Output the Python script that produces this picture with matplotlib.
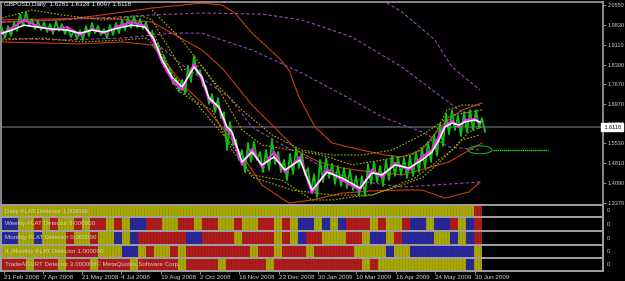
import matplotlib

matplotlib.use("Agg")
import matplotlib.pyplot as plt
from matplotlib.colors import ListedColormap
from matplotlib.patches import Ellipse
import numpy as np

plt.rcParams["font.family"] = ["Liberation Sans", "DejaVu Sans"]

# --- price data (x = bar position on screen) ---
bar_x = np.arange(0, 481, 6)
price_hi = [1.972, 1.979, 1.993, 2.022, 2.030, 2.004, 1.997, 1.993, 1.986, 1.997,
            1.986, 1.975, 1.964, 1.964, 1.979, 1.990, 1.979, 1.968, 1.982, 1.990,
            2.001, 2.011, 2.015, 2.004, 1.993, 1.957, 1.914, 1.870, 1.827, 1.790,
            1.783, 1.834, 1.870, 1.819, 1.761, 1.732, 1.718, 1.667, 1.631, 1.566,
            1.529, 1.555, 1.558, 1.522, 1.529, 1.566, 1.522, 1.493, 1.515, 1.537,
            1.518, 1.464, 1.442, 1.493, 1.500, 1.479, 1.471, 1.464, 1.457, 1.435,
            1.435, 1.479, 1.486, 1.471, 1.493, 1.508, 1.504, 1.500, 1.508, 1.522,
            1.537, 1.558, 1.584, 1.624, 1.663, 1.674, 1.653, 1.667, 1.674, 1.674,
            1.645]
price_lo = [1.935, 1.943, 1.961, 1.979, 1.982, 1.968, 1.964, 1.957, 1.950, 1.961,
            1.950, 1.939, 1.932, 1.928, 1.943, 1.953, 1.946, 1.935, 1.946, 1.953,
            1.964, 1.972, 1.975, 1.968, 1.953, 1.903, 1.856, 1.812, 1.769, 1.740,
            1.732, 1.776, 1.805, 1.761, 1.696, 1.667, 1.645, 1.529, 1.547, 1.493,
            1.449, 1.486, 1.493, 1.449, 1.457, 1.479, 1.449, 1.420, 1.442, 1.464,
            1.439, 1.377, 1.359, 1.413, 1.428, 1.406, 1.399, 1.391, 1.384, 1.366,
            1.362, 1.406, 1.413, 1.399, 1.420, 1.435, 1.439, 1.428, 1.435, 1.449,
            1.464, 1.486, 1.508, 1.544, 1.587, 1.602, 1.580, 1.595, 1.602, 1.609,
            1.595]

ma_x = [0, 10, 22, 35, 50, 65, 78, 90, 102, 117, 130, 143, 152, 160, 170, 180,
        192, 200, 207, 217, 225, 230, 240, 250, 260, 272, 283, 298, 310, 325,
        340, 358, 370, 380, 393, 407, 420, 430, 437, 443, 450, 457, 463, 473, 478]
ma_slow = [1.953, 1.964, 1.982, 1.975, 1.968, 1.964, 1.953, 1.964, 1.957, 1.972,
           1.982, 1.975, 1.932, 1.856, 1.794, 1.758, 1.830, 1.794, 1.718, 1.685,
           1.613, 1.595, 1.486, 1.522, 1.475, 1.504, 1.457, 1.493, 1.384, 1.449,
           1.428, 1.391, 1.446, 1.439, 1.475, 1.464, 1.493, 1.522, 1.566, 1.613,
           1.627, 1.620, 1.631, 1.638, 1.631]
ma_fast = [1.950, 1.972, 2.001, 1.979, 1.964, 1.975, 1.946, 1.968, 1.953, 1.979,
           1.993, 1.979, 1.921, 1.848, 1.783, 1.747, 1.841, 1.783, 1.711, 1.682,
           1.602, 1.584, 1.475, 1.533, 1.468, 1.522, 1.449, 1.504, 1.373, 1.457,
           1.420, 1.384, 1.457, 1.431, 1.482, 1.457, 1.504, 1.529, 1.580, 1.620,
           1.634, 1.613, 1.638, 1.642, 1.624]

# envelope / band lines: (x, price, kind)
bands = [
    ([0, 60, 100, 150, 200, 220, 233, 250, 277, 287, 297, 313, 330, 350, 383, 400, 420, 440, 460, 480],
     [1.993, 2.001, 2.019, 2.044, 2.062, 2.055, 2.026, 1.953, 1.863, 1.819, 1.721, 1.613, 1.555, 1.537,
      1.511, 1.504, 1.529, 1.620, 1.674, 1.700], "red"),
    ([0, 100, 150, 200, 220, 250, 273, 297, 317, 340, 370, 400, 447, 480],
     [2.001, 2.008, 1.993, 1.892, 1.827, 1.692, 1.609, 1.522, 1.486, 1.464, 1.449, 1.439, 1.486, 1.555], "red"),
    ([0, 80, 120, 150, 183, 200, 230, 260, 287, 310, 340, 370, 400, 420, 443, 467, 478],
     [1.921, 1.914, 1.921, 1.910, 1.758, 1.700, 1.566, 1.402, 1.337, 1.348, 1.373, 1.381, 1.384, 1.384,
      1.355, 1.377, 1.413], "red"),
    ([380, 400, 433, 450, 478], [2.073, 2.030, 1.928, 1.830, 1.747], "purple"),
    ([0, 100, 150, 200, 260, 300, 350, 400, 457, 478],
     [1.993, 2.008, 2.019, 2.026, 2.022, 2.001, 1.939, 1.830, 1.674, 1.645], "purple"),
    ([0, 60, 120, 170, 200, 250, 300, 350, 380, 420, 447, 478],
     [1.935, 1.928, 1.935, 1.953, 1.953, 1.892, 1.808, 1.711, 1.649, 1.595, 1.540, 1.529], "purple"),
    ([150, 183, 227, 250, 277, 317, 350, 400, 478],
     [1.928, 1.830, 1.721, 1.613, 1.555, 1.475, 1.420, 1.395, 1.413], "purple"),
    ([0, 30, 60, 100, 140, 150, 165, 180, 200, 220, 240, 260, 290, 320, 350, 380, 410, 430, 445, 460, 478],
     [2.008, 2.037, 2.019, 2.001, 2.015, 2.001, 1.910, 1.819, 1.837, 1.729, 1.602, 1.547, 1.529, 1.511,
      1.475, 1.493, 1.511, 1.566, 1.674, 1.692, 1.692], "yellow"),
    ([0, 40, 80, 120, 145, 160, 175, 190, 210, 230, 250, 280, 310, 330, 350, 370, 400, 420, 440, 460, 478],
     [1.928, 1.935, 1.921, 1.928, 1.935, 1.874, 1.747, 1.711, 1.674, 1.529, 1.439, 1.420, 1.348, 1.348,
      1.359, 1.366, 1.402, 1.428, 1.493, 1.566, 1.584], "yellow"),
    ([150, 170, 200, 230, 250, 290, 330, 370, 383, 413, 450, 467, 480],
     [1.964, 1.808, 1.674, 1.547, 1.431, 1.384, 1.366, 1.366, 1.384, 1.428, 1.529, 1.595, 1.613], "yellow"),
    ([150, 180, 210, 240, 270, 300, 330, 360, 390, 420, 450, 480],
     [2.037, 1.928, 1.783, 1.674, 1.584, 1.529, 1.511, 1.511, 1.529, 1.584, 1.656, 1.674], "yellow"),
]

last_price = 1.6118
title_text = "GBPUSD,Daily  1.6281 1.6328 1.6097 1.6118"
price_ticks = [2.0550, 1.9830, 1.9110, 1.8390, 1.7670, 1.6970, 1.6250, 1.5530, 1.4810, 1.4090, 1.3370]
target_level = 1.530

# --- detector panes: one state per 8-px column (y=yellow, r=red, b=blue) ---
pane_names = [
    "Daily FLAT Detector 1.000000",
    "Weekly FLAT Detector 0.000000",
    "Monthly FLAT Detector 0.000000",
    "4_Monthly FLAT Detector 1.000000",
    "TradeAGURT Detector 3.000000\u00a9 MetaQuotes Software Corp.",
]
pane_states = [
    "y" * 59 + "r",
    "bbyyryryyryrryrybbrryyrryrryyryyrryrybbybybrrryryyrbbybbrybr",
    "bbyybyyyryyryybybrrrrrrbbrrrryrrrryrybrryyyrrybbyrbbbbyybybr",
    "yyyyyyyyrrrryyybbyryyryrrrrrrrryrryrrryrrrrryyyybyybbbbbbbby",
    "rrryrrryrrryrrrryrrrrryrrrryrrrrryrrrrrrrrrrryryyyyyyyyyyyby",
]

date_x = [2, 41, 80, 119, 159, 198, 237, 277, 316, 354, 394, 433, 473]
date_labels = ["21 Feb 2008", "7 Apr 2008", "21 May 2008", "4 Jul 2008", "19 Aug 2008",
               "2 Oct 2008", "16 Nov 2008", "23 Dec 2008", "30 Jan 2009", "10 Mar 2009",
               "16 Apr 2009", "24 May 2009", "30 Jun 2009"]

W, H = 625, 281
GREY = "#a0a0a0"
TXT = "#d0d0d0"
FS = 4.5
FS_AXIS = 4.0
band_style = {
    "red": dict(color="#c83c14", lw=0.8, ls="-"),
    "purple": dict(color="#9848b0", lw=0.8, ls=(0, (3, 2))),
    "yellow": dict(color="#b0b000", lw=0.8, ls=(0, (1.5, 1.5))),
}


def px_rect(left, top, right, bottom):
    return [left / W, 1 - bottom / H, (right - left) / W, (bottom - top) / H]


fig = plt.figure(figsize=(W / 100, H / 100), dpi=100, facecolor="black")

# --- main price chart ---
ax = fig.add_axes(px_rect(1, 2, 603, 205))
ax.set_facecolor("black")
ax.set_xlim(-1, 601)
ax.set_ylim(1.3298, 2.0659)
for s in ["top", "left", "right"]:
    ax.spines[s].set_color(GREY)
    ax.spines[s].set_linewidth(1.2)
ax.spines["bottom"].set_visible(False)
ax.set_xticks([])
ax.yaxis.tick_right()
ax.set_yticks(price_ticks)
ax.set_yticklabels([f"{t:.4f}" for t in price_ticks])
ax.tick_params(axis="y", colors=GREY, labelcolor=TXT, labelsize=FS_AXIS, length=2, width=0.6, pad=1.2)

for xs, ys, kind in bands:
    ax.plot(xs, ys, **band_style[kind], zorder=2)

ax.axhline(last_price, color="#505058", lw=1.2, zorder=1)

zx = np.ravel(np.column_stack([bar_x, bar_x + 3]))
zy = np.ravel(np.column_stack([price_hi, price_lo]))
ax.plot(zx, zy, color="#10c010", lw=1.3, zorder=3)
ax.plot(ma_x, ma_fast, color="#ff20ff", lw=1.5, zorder=4)
ax.plot(ma_x, ma_slow, color="white", lw=1.1, zorder=5)

ax.add_patch(Ellipse((478, target_level), 24, 0.029, fill=False, edgecolor="#10b010", lw=0.8, zorder=4))
ax.plot([491, 546], [target_level, target_level], color="#20e020", lw=1.0, ls=(0, (1, 0.5)), zorder=4)

ax.text(1.0, last_price, " 1.6118", transform=ax.get_yaxis_transform(), fontsize=FS_AXIS, color="black",
        va="center", ha="left", zorder=10, clip_on=False,
        bbox=dict(boxstyle="square,pad=0.3", facecolor="white", edgecolor="white"))
ax.text(2, 2.0659, title_text, fontsize=FS, color="white", va="top", ha="left")

# --- detector panes ---
state_colors = ListedColormap(["#a8a800", "#b01c1c", "#28289c"])
code = {"y": 0, "r": 1, "b": 2}
pane_edges = [205, 217, 231, 245, 258, 271]
for i, (name, states) in enumerate(zip(pane_names, pane_states)):
    axp = fig.add_axes(px_rect(1, pane_edges[i], 603, pane_edges[i + 1]))
    axp.set_facecolor("black")
    axp.set_xlim(-1, 601)
    axp.set_ylim(0, 1)
    vals = np.array([[code[c] for c in states]])
    axp.imshow(vals, cmap=state_colors, vmin=0, vmax=2, aspect="auto", extent=(0, 480, 0, 1),
               interpolation="nearest")
    axp.vlines(np.arange(1, 480, 3), 0, 1, colors="black", lw=0.4, alpha=0.35, linestyles=(0, (1, 1)))
    for s in axp.spines.values():
        s.set_color(GREY)
        s.set_linewidth(1.4)
    axp.set_yticks([])
    axp.text(3, 0.5, name, fontsize=FS, color=TXT, va="center", ha="left")
    axp.text(1.006, 0.5, "0", transform=axp.transAxes, fontsize=FS_AXIS, color=TXT, va="center", ha="left")
    if i == len(pane_names) - 1:
        axp.set_xticks(date_x)
        axp.set_xticklabels(date_labels, ha="left")
        axp.tick_params(axis="x", colors=GREY, labelcolor=TXT, labelsize=FS, length=2, width=0.6, pad=1)
    else:
        axp.set_xticks([])

fig.savefig("out.png", dpi=100, facecolor="black")
